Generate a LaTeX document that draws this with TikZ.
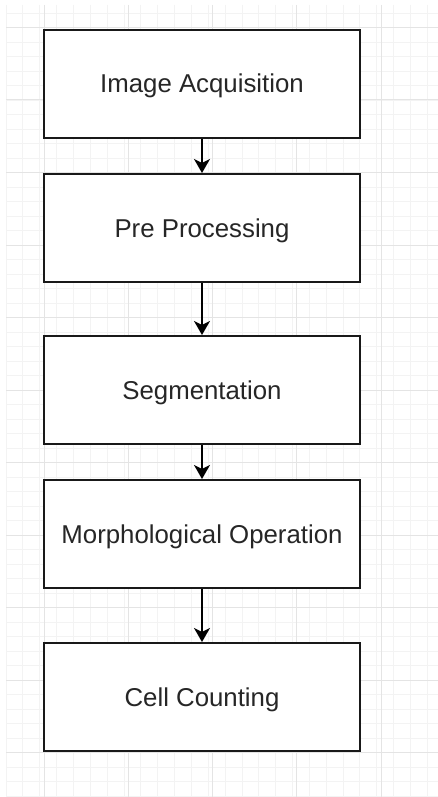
\documentclass[tikz,border=0pt]{standalone}
\usepackage{fontspec}
\setmainfont{Liberation Sans}
\usetikzlibrary{arrows.meta}
\definecolor{gridmajor}{HTML}{E4E4E4}
\definecolor{gridminor}{HTML}{F3F3F3}
\definecolor{labeltext}{HTML}{262626}
\begin{document}
\begin{tikzpicture}[x=1pt,y=-1pt,
  stagebox/.style={draw=black!90, line width=2pt, fill=white,
    minimum width=316pt, minimum height=108pt, inner sep=0pt,
    text height=18pt, text depth=-1pt,
    text=labeltext, font=\fontsize{25.8}{29}\selectfont},
  flow/.style={draw=black, line width=1.6pt,
    -{Stealth[length=14pt,width=16pt,inset=4pt]}}]
  % canvas
  \useasboundingbox (0,0) rectangle (438,797);
  \fill[white] (0,0) rectangle (438,797);
  % background grid: minor lines
  \foreach \i in {0,...,27} {
    \draw[gridminor, line width=0.8pt] ({6+\i*16.85},5) -- ({6+\i*16.85},797);
  }
  \foreach \j in {0,...,55} {
    \draw[gridminor, line width=0.8pt] (6,{13+\j*14.5}) -- (438,{13+\j*14.5});
  }
  % background grid: major lines
  \foreach \xx in {44,128.25,212.5,296.75,381} {
    \draw[gridmajor, line width=1pt] (\xx,5) -- (\xx,797);
  }
  \foreach \yy in {27.5,100,172.5,245,317.5,390,462.5,535,607.5,680,752.5} {
    \draw[gridmajor, line width=1pt] (6,\yy) -- (438,\yy);
  }
  % processing stages
  \node[stagebox] (acq)   at (202,84)  {Image Acquisition};
  \node[stagebox] (pre)   at (202,228) {Pre Processing};
  \node[stagebox] (seg)   at (202,390) {Segmentation};
  \node[stagebox] (morph) at (202,534) {Morphological Operation};
  \node[stagebox] (count) at (202,697) {Cell Counting};
  % flow between stages
  \draw[flow] (acq) -- (pre);
  \draw[flow] (pre) -- (seg);
  \draw[flow] (seg) -- (morph);
  \draw[flow] (morph) -- (count);
\end{tikzpicture}
\end{document}
